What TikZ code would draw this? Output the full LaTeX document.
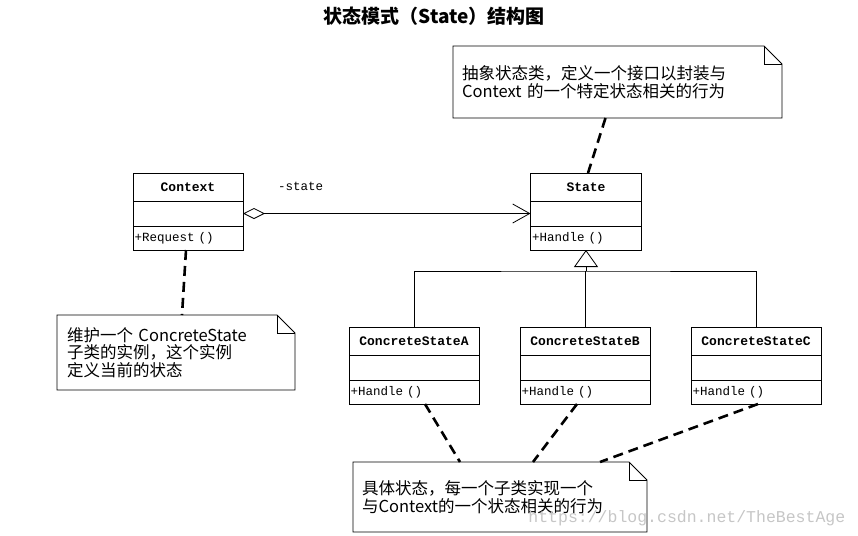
\documentclass[tikz,border=0pt]{standalone}
\usepackage{fontspec}
\setmonofont{Liberation Mono}
\newfontfamily\cjk{Noto Sans CJK SC}
\usetikzlibrary{positioning}
\usetikzlibrary{arrows.meta}
\tikzset{
    classname/.style = {rectangle, draw=black, minimum width=#1, minimum height=28pt, inner sep=0pt, outer sep=0pt, font=\ttfamily\bfseries\fontsize{13}{13}\selectfont},
    classattr/.style = {rectangle, draw=black, minimum width=#1, minimum height=25pt, inner sep=0pt, outer sep=0pt},
    classop/.style = {rectangle, draw=black, text width=#1, minimum height=24pt, inner xsep=1.5pt, inner ysep=0pt, outer sep=0pt, align=left, font=\ttfamily\fontsize{12.5}{12.5}\selectfont},
    notebox/.style = {rectangle, inner ysep=0pt, outer sep=0pt, align=left, font=\cjk\fontsize{16.5}{17.5}\selectfont},
    assoc/.style = {{Diamond[open,length=22pt,width=11pt]}-{Straight Barb[length=17pt,width=19pt]}},
    inherit/.style = {-{Triangle[open,length=17pt,width=24pt]}},
    notelink/.style = {line width=2.6pt, dash pattern=on 10pt off 6pt}
}
\newcommand{\foldnote}[1]{%
  \draw (#1.north west) -- ([xshift=-18pt]#1.north east) -- ([yshift=-18pt]#1.north east) -- (#1.south east) -- (#1.south west) -- cycle;
  \draw ([xshift=-18pt]#1.north east) |- ([yshift=-18pt]#1.north east);
}

\begin{document}
\begin{tikzpicture}[x=1pt, y=-1pt, line width=0.8pt]
  \useasboundingbox (0,0) rectangle (858,535);

  \node[font=\cjk\bfseries\fontsize{19}{19}\selectfont] at (434,16) (title) {状态模式（State）结构图};

  % classes
  \node[classname=110pt] at (188,187) (ctx) {Context};
  \node[classattr=110pt, below=0pt of ctx] (ctxattr) {};
  \node[classop=107pt, below=0pt of ctxattr] (ctxop) {+Request ()};

  \node[classname=111pt] at (586,187) (st) {State};
  \node[classattr=111pt, below=0pt of st] (stattr) {};
  \node[classop=108pt, below=0pt of stattr] (stateop) {+Handle ()};

  \node[classname=130pt] at (414,341) (csa) {ConcreteStateA};
  \node[classattr=130pt, below=0pt of csa] (csaattr) {};
  \node[classop=127pt, below=0pt of csaattr] (csaop) {+Handle ()};

  \node[classname=130pt] at (585,341) (csb) {ConcreteStateB};
  \node[classattr=130pt, below=0pt of csb] (csbattr) {};
  \node[classop=127pt, below=0pt of csbattr] (csbop) {+Handle ()};

  \node[classname=130pt] at (756,341) (csc) {ConcreteStateC};
  \node[classattr=130pt, below=0pt of csc] (cscattr) {};
  \node[classop=127pt, below=0pt of cscattr] (cscop) {+Handle ()};

  \draw[assoc] (ctxattr.east) -- (stattr.west)
    node[pos=0.2, above=21pt, inner sep=1pt, font=\ttfamily\fontsize{12.5}{12.5}\selectfont] (lblstate) {-state};

  \coordinate (split) at ([yshift=-21pt]stateop.south);
  \draw[inherit] (split) -- (stateop.south);
  \draw (csa.north) |- (split) -| (csc.north);
  \draw (csb.north) -- (csb.north |- split);

  % notes
  \node[notebox, text width=311pt, inner xsep=9pt, minimum height=72pt] at (617.5,82) (tnote)
    {抽象状态类，定义一个接口以封装与\\Context 的一个特定状态相关的行为};
  \foldnote{tnote}
  \node[notebox, text width=218pt, inner xsep=10pt, minimum height=75pt] at (176,352.5) (cnote)
    {维护一个 ConcreteState\\子类的实例，这个实例\\定义当前的状态};
  \foldnote{cnote}
  \node[notebox, text width=276pt, inner xsep=9pt, minimum height=70pt] at (500,497) (bnote)
    {具体状态，每一个子类实现一个\\与Context的一个状态相关的行为};
  \foldnote{bnote}

  \draw[notelink] ([xshift=-12pt]tnote.south) -- ([xshift=2pt]st.north);
  \draw[notelink] ([xshift=-2pt]ctxop.south) -- ([xshift=6pt]cnote.north);
  \draw[notelink] ([xshift=11pt]csaop.south) -- ([xshift=-40pt]bnote.north);
  \draw[notelink] ([xshift=-8pt]csbop.south) -- ([xshift=33pt]bnote.north);
  \draw[notelink] ([xshift=2pt]cscop.south) -- ([xshift=100pt]bnote.north);

  \node[anchor=west, inner sep=0pt, text=gray!45, font=\ttfamily\fontsize{16.5}{16.5}\selectfont] at (528,518) (mark) {https://blog.csdn.net/TheBestAge};
\end{tikzpicture}
\end{document}
